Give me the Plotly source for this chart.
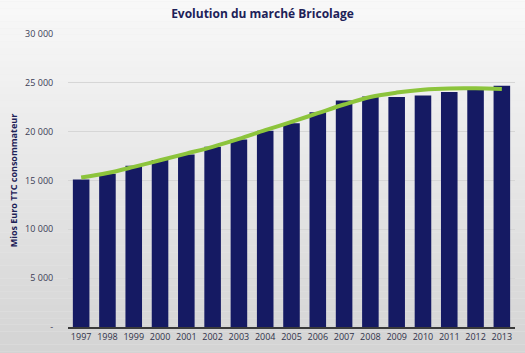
import plotly.graph_objects as go

years = ["1997", "1998", "1999", "2000", "2001", "2002", "2003", "2004", "2005",
         "2006", "2007", "2008", "2009", "2010", "2011", "2012", "2013"]
market = [15100, 15700, 16500, 17100, 17650, 18450, 19200, 20100, 20850,
          22000, 23200, 23600, 23550, 23700, 24050, 24400, 24700]
trend = [15300, 15760, 16390, 17070, 17750, 18450, 19260, 20150, 21000,
         21890, 22780, 23550, 24000, 24300, 24430, 24440, 24380]
ytick_vals = [0, 5000, 10000, 15000, 20000, 25000, 30000]
ytick_text = ["-", "5 000", "10 000", "15 000", "20 000", "25 000", "30 000"]

fig = go.Figure()
fig.add_trace(go.Bar(x=years, y=market, marker=dict(color="#151a63", line=dict(width=0)),
                     showlegend=False))
fig.add_trace(go.Scatter(x=years, y=trend, mode="lines", line=dict(color="#8cc43c", width=4, shape="spline"),
                         showlegend=False))

# background vertical gradient
shapes = []
n = 60
top = (251, 251, 251)
bot = (210, 210, 210)
for i in range(n):
    t = i / (n - 1)
    c = tuple(int(round(top[k] + (bot[k] - top[k]) * t)) for k in range(3))
    shapes.append(dict(type="rect", xref="paper", yref="paper", x0=-0.2, x1=1.1,
                       y0=1.2 - (i + 1) * (1.35 / n), y1=1.2 - i * (1.35 / n),
                       fillcolor="rgb(%d,%d,%d)" % c, line=dict(width=0), layer="below"))

fig.update_layout(
    width=525, height=353,
    margin=dict(l=68, r=10, t=34, b=23),
    paper_bgcolor="#ececec", plot_bgcolor="rgba(0,0,0,0)",
    shapes=shapes,
    bargap=0.37,
    title=dict(text="<b>Evolution du marché Bricolage</b>", x=0.5, xanchor="center", y=0.962, yanchor="middle",
               font=dict(family="Open Sans", size=12, color="#1d2157")),
    font=dict(family="Open Sans", size=9, color="#3a3d55"),
    xaxis=dict(showline=True, linecolor="#3a3a3a", linewidth=2, showgrid=False,
               tickfont=dict(size=9, color="#30324a"), ticks="", fixedrange=True),
    yaxis=dict(range=[0, 30000], tickvals=ytick_vals, ticktext=ytick_text,
               showgrid=True, gridcolor="#d6d6d6", gridwidth=1, zeroline=False,
               ticks="outside", ticklen=12, tickcolor="rgba(0,0,0,0)",
               tickfont=dict(size=9, color="#3a3d55"),
               title=dict(text="<b>Mios Euro TTC consommateur</b>", standoff=5,
                          font=dict(size=9, color="#1d2157"))),
)

fig.write_html("out.html")
